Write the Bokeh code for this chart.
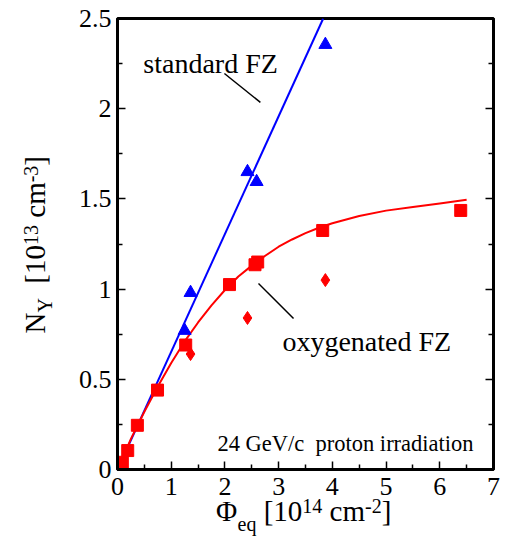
import math
from bokeh.plotting import figure
from bokeh.models import (Range1d, LinearAxis, FixedTicker, CustomJSTickFormatter,
                          Label, AllLabels)
from bokeh.embed import file_html
from bokeh.resources import INLINE

# ---------------- data ----------------
std_fluence = [1.25, 1.36, 2.42, 2.59, 3.87]
std_ny = [0.77, 0.98, 1.65, 1.595, 2.355]
std_fit_x = [0.0, 3.83]
std_fit_y = [0.0, 2.5]

oxy_fluence = [0.09, 0.19, 0.37, 0.745, 1.27, 2.085, 2.56, 2.61, 3.82, 6.39]
oxy_ny = [0.04, 0.105, 0.245, 0.44, 0.69, 1.025, 1.135, 1.15, 1.325, 1.436]

oxy_b_fluence = [1.36, 2.42, 3.87]
oxy_b_ny = [0.64, 0.84, 1.05]

oxy_fit_x = [0.0, 0.25, 0.5, 0.75, 1.0, 1.25, 1.5, 1.75, 2.0, 2.25, 2.5, 2.75, 3.0,
             3.25, 3.5, 3.75, 4.0, 4.5, 5.0, 5.5, 6.0, 6.5]
oxy_fit_y = [0.0, 0.17, 0.32, 0.46, 0.59, 0.71, 0.815, 0.91, 0.995, 1.07, 1.13, 1.185,
             1.235, 1.275, 1.31, 1.34, 1.365, 1.405, 1.435, 1.455, 1.475, 1.495]

x_major = [0, 1, 2, 3, 4, 5, 6, 7]
x_minor = [0.5, 1.5, 2.5, 3.5, 4.5, 5.5, 6.5]
y_major = [0, 0.5, 1, 1.5, 2, 2.5]
y_minor = [0.25, 0.75, 1.25, 1.75, 2.25]

x_title = [("\u03a6", "main"), ("eq", "sub"), (" ", "main"), ("[10", "main"), ("14", "sup"),
           (" ", "main"), ("cm", "main"), ("-2", "sup"), ("]", "main")]
y_title = [("N", "main"), ("Y", "sub"), (" ", "main"), (" ", "main"), ("[10", "main"),
           ("13", "sup"), (" ", "main"), ("cm", "main"), ("-3", "sup"), ("]", "main")]

FONT = "Liberation Serif"
W, H = 508, 540
X0, X1, Y0, Y1 = 0, 7, 0, 2.5
ML, MR, MT, MB = 117, 15, 18, 71
FW, FH = W - ML - MR, H - MT - MB

p = figure(width=W, height=H, output_backend="svg", toolbar_location=None,
           x_range=Range1d(X0, X1), y_range=Range1d(Y0, Y1),
           x_axis_location=None, y_axis_location=None,
           min_border_left=ML, min_border_right=MR, min_border_top=MT, min_border_bottom=MB)
p.grid.visible = False
p.outline_line_color = "black"
p.outline_line_width = 3
p.background_fill_color = "white"
p.border_fill_color = "white"

fmt = CustomJSTickFormatter(code="return tick.toString();")
blank = CustomJSTickFormatter(code="return '';")


def style_axis(ax, labels=True):
    ax.axis_line_color = "black"
    ax.axis_line_width = 3
    ax.major_tick_in = 8
    ax.major_tick_out = 0
    ax.minor_tick_in = 5
    ax.minor_tick_out = 0
    ax.major_tick_line_width = 1.5
    ax.minor_tick_line_width = 1.5
    ax.major_label_text_font = FONT
    ax.major_label_text_font_size = "26px"
    ax.major_label_text_color = "black"
    ax.formatter = fmt if labels else blank


xb = LinearAxis(ticker=FixedTicker(ticks=x_major, minor_ticks=x_minor))
style_axis(xb)
xb.major_label_standoff = 8
p.add_layout(xb, "below")

yl = LinearAxis(ticker=FixedTicker(ticks=y_major, minor_ticks=y_minor))
style_axis(yl)
yl.major_label_standoff = 6
p.add_layout(yl, "left")

yr = LinearAxis(ticker=FixedTicker(ticks=y_major, minor_ticks=y_minor))
style_axis(yr, labels=False)
yr.major_label_standoff = 0
p.add_layout(yr, "right")

# ---------------- glyphs ----------------
p.line(std_fit_x, std_fit_y, line_color="#0000ff", line_width=2)
p.line(oxy_fit_x, oxy_fit_y, line_color="#ff0000", line_width=2)
p.scatter(std_fluence, std_ny, marker="triangle", size=13, fill_color="#0000ff", line_color="#0000ff")
p.scatter(oxy_fluence, oxy_ny, marker="square", size=12, fill_color="#ff0000", line_color="#ff0000")
p.scatter(oxy_b_fluence, oxy_b_ny, marker="diamond", size=13, fill_color="#ff0000", line_color="#ff0000")

# annotations with leader lines
p.line([1.99, 2.66], [2.195, 2.035], line_color="black", line_width=1.5)
p.line([2.625, 3.277], [1.031, 0.837], line_color="black", line_width=1.5)
p.add_layout(Label(x=0.48, y=2.25, text="standard FZ", text_font=FONT,
                   text_font_size="28px", text_color="black", text_baseline="alphabetic"))
p.add_layout(Label(x=3.07, y=0.71, text="oxygenated FZ", text_font=FONT,
                   text_font_size="28px", text_color="black", text_baseline="alphabetic"))
p.add_layout(Label(x=1.86, y=0.144, text="24 GeV/c\u00a0 proton irradiation", text_font=FONT,
                   text_font_size="22.5px", text_color="black", text_baseline="alphabetic"))

# ---------------- axis titles: pieces drawn as tick labels of bare axes ----------------
TW = {" ": 0.25, "[": 0.333, "]": 0.333, "c": 0.444, "m": 0.778, "e": 0.444,
      "q": 0.5, "-": 0.333, "N": 0.722, "Y": 0.722, "\u03a6": 0.76}
SIZE = {"main": 29, "sub": 20, "sup": 20}


def adv(s, size):
    return sum(TW.get(ch, 0.5) for ch in s) * size


def layout_pieces(pieces, start_px):
    """return {kind: [(text, centre_px_along)]} with centres measured from start."""
    groups = {"main": [], "sub": [], "sup": []}
    pos = start_px
    for txt, kind in pieces:
        w = adv(txt, SIZE[kind])
        if txt.strip():
            groups[kind].append((txt, pos + w / 2))
        pos += w
    return groups


def bare_axis(kind, locs, texts, standoff, vertical):
    ax = LinearAxis(ticker=FixedTicker(ticks=locs, minor_ticks=[]),
                    formatter=CustomJSTickFormatter(
                        args=dict(pos=locs, labs=texts),
                        code="let b=-1,d=1e9; for (let i=0;i<pos.length;i++){const e=Math.abs(pos[i]-tick); if(e<d){d=e;b=i}} return d<1e-6 ? labs[b] : '';"),
                    major_label_policy=AllLabels())
    ax.axis_line_color = None
    ax.major_tick_line_color = None
    ax.minor_tick_line_color = None
    ax.major_tick_in = 0
    ax.major_tick_out = 0
    ax.minor_tick_in = 0
    ax.minor_tick_out = 0
    ax.major_label_text_font = FONT
    ax.major_label_text_font_size = f"{SIZE[kind]}px"
    ax.major_label_text_color = "black"
    ax.major_label_standoff = standoff
    if vertical:
        ax.major_label_orientation = "parallel"
    return ax


# x title: starts at frame-relative x = 98 px
xg = layout_pieces(x_title, 98)
x_stand = {"sup": 1, "main": -21, "sub": -17}
for kind in ["sup", "main", "sub"]:
    items = xg[kind]
    locs = [X0 + c * (X1 - X0) / FW for _, c in items]
    p.add_layout(bare_axis(kind, locs, [t for t, _ in items], x_stand[kind], False), "below")

# y title: starts (bottom of text) at frame-relative y = 136 px, reading upward
yg = layout_pieces(y_title, 136)
y_stand = {"sub": 19, "main": -20, "sup": -22}
for kind in ["sub", "main", "sup"]:
    items = yg[kind]
    locs = [Y0 + c * (Y1 - Y0) / FH for _, c in items]
    p.add_layout(bare_axis(kind, locs, [t for t, _ in items], y_stand[kind], True), "left")

open("out.html", "w").write(file_html(p, INLINE))
